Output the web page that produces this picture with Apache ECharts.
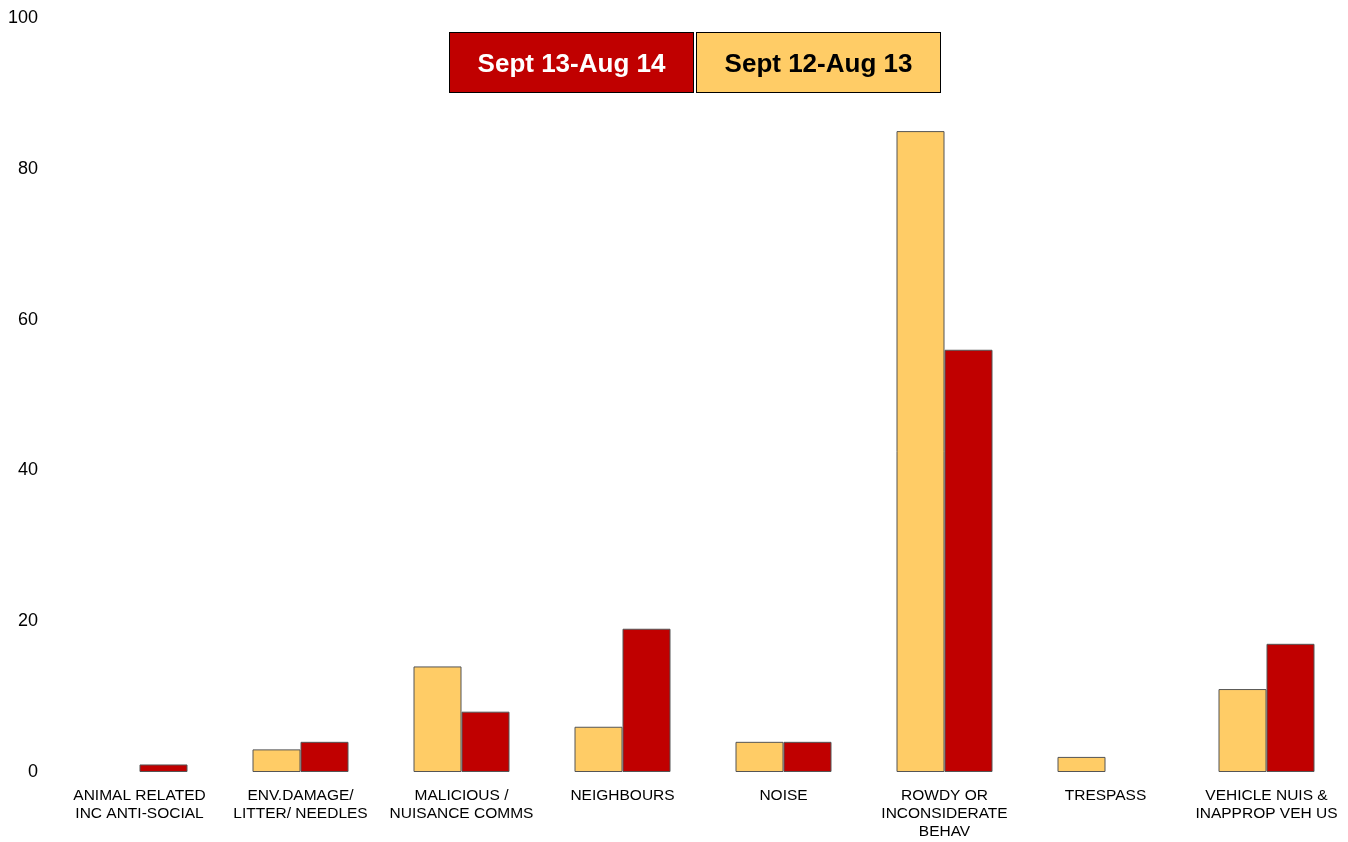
<!DOCTYPE html>
<html>
<head>
<meta charset="utf-8">
<script src="https://cdn.jsdelivr.net/npm/echarts@6/dist/echarts.min.js"></script>
<style>
html,body{margin:0;padding:0;background:#fff;}
#chart{width:1348px;height:842px;}
</style>
</head>
<body>
<div id="chart"></div>
<script>
const categories = [
  'ANIMAL RELATED\nINC ANTI-SOCIAL',
  'ENV.DAMAGE/\nLITTER/ NEEDLES',
  'MALICIOUS /\nNUISANCE COMMS',
  'NEIGHBOURS',
  'NOISE',
  'ROWDY OR\nINCONSIDERATE\nBEHAV',
  'TRESPASS',
  'VEHICLE NUIS &\nINAPPROP VEH US'
];
const seriesNames = ['Sept 12-Aug 13', 'Sept 13-Aug 14'];
const sept12Aug13 = [0, 3, 14, 6, 4, 85, 2, 11];
const sept13Aug14 = [1, 4, 8, 19, 4, 56, 0, 17];
const yTicks = { min: 0, max: 100, interval: 20 };

const colors = { y: '#ffcc66', r: '#c00000' };
const FONT = 'Liberation Sans, Arial, sans-serif';
const box = (bg, fg) => ({
  backgroundColor: bg, color: fg, borderColor: '#000', borderWidth: 1,
  width: 243, height: 55, lineHeight: 55, padding: [4, 0, 0, 0], align: 'center',
  fontSize: 26, fontWeight: 'bold', fontFamily: FONT
});
const noZero = arr => arr.map(v => (v === 0 ? '-' : v));
const chart = echarts.init(document.getElementById('chart'));
chart.setOption({
  animation: false,
  textStyle: { fontFamily: FONT },
  legend: {
    left: 439, top: 27,
    itemWidth: 0, itemHeight: 0, itemGap: -3,
    icon: 'rect',
    selectedMode: false,
    data: [seriesNames[1], seriesNames[0]],
    formatter: name => (name === seriesNames[1] ? '{r|' + name + '}' : '{y|' + name + '}'),
    textStyle: {
      rich: { r: box(colors.r, '#fff'), y: box(colors.y, '#000') }
    }
  },
  grid: { left: 59, right: 1, top: 18, bottom: 70, containLabel: false },
  xAxis: {
    type: 'category',
    data: categories,
    axisLine: { show: false },
    axisTick: { show: false },
    axisLabel: { interval: 0, fontSize: 15.5, lineHeight: 18, color: '#000', margin: 15 }
  },
  yAxis: {
    type: 'value',
    min: yTicks.min, max: yTicks.max, interval: yTicks.interval,
    axisLine: { show: false },
    axisTick: { show: false },
    splitLine: { show: false },
    axisLabel: { fontSize: 18, color: '#000', margin: 21 }
  },
  series: [
    {
      name: seriesNames[0], type: 'bar', data: noZero(sept12Aug13),
      barWidth: 48, barGap: '0%',
      itemStyle: { color: colors.y, borderColor: '#555', borderWidth: 1 }
    },
    {
      name: seriesNames[1], type: 'bar', data: noZero(sept13Aug14),
      barWidth: 48, barGap: '0%',
      itemStyle: { color: colors.r, borderColor: '#555', borderWidth: 1 }
    }
  ]
});
</script>
</body>
</html>
